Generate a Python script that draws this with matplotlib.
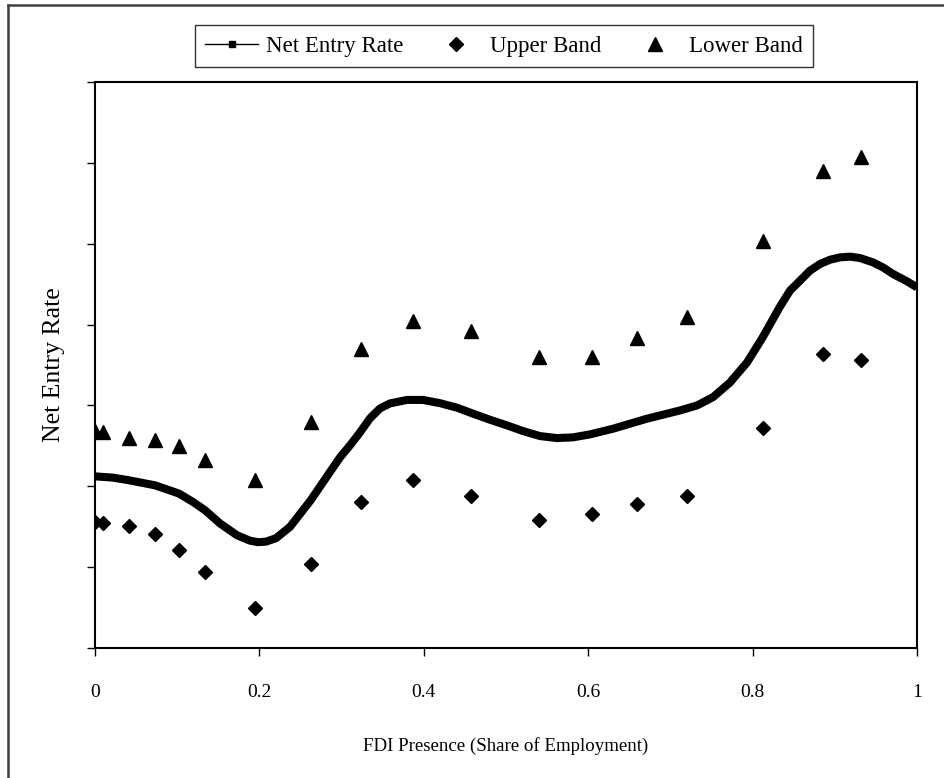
import matplotlib
matplotlib.use("Agg")
import matplotlib.pyplot as plt
from matplotlib.lines import Line2D
from matplotlib.legend_handler import HandlerLine2D

# Net Entry Rate curve (y in tick units, axis 0..7)
line_x = [0.0, 0.0219, 0.0414, 0.0730, 0.1022, 0.1192, 0.1338, 0.1521, 0.1727, 0.1886,
          0.1983, 0.2080, 0.2202, 0.2372, 0.2624, 0.2859, 0.2981, 0.3102, 0.3224, 0.3345,
          0.3467, 0.3589, 0.3796, 0.3990, 0.4197, 0.4404, 0.4599, 0.4805, 0.5012, 0.5207,
          0.5414, 0.5620, 0.5815, 0.6022, 0.6302, 0.6715, 0.7117, 0.7324, 0.7518, 0.7725,
          0.7932, 0.8114, 0.8224, 0.8333, 0.8455, 0.8577, 0.8698, 0.8820, 0.8942, 0.9063,
          0.9185, 0.9307, 0.9465, 0.9586, 0.9708, 0.9878, 1.0]
line_y = [2.123, 2.107, 2.074, 2.012, 1.910, 1.806, 1.704, 1.540, 1.395, 1.327,
          1.309, 1.315, 1.358, 1.498, 1.827, 2.177, 2.358, 2.506, 2.667, 2.840,
          2.963, 3.025, 3.068, 3.068, 3.028, 2.972, 2.898, 2.823, 2.753, 2.683,
          2.621, 2.596, 2.605, 2.642, 2.712, 2.836, 2.938, 3.000, 3.102, 3.284,
          3.531, 3.827, 4.025, 4.222, 4.420, 4.543, 4.667, 4.749, 4.802, 4.831,
          4.840, 4.823, 4.769, 4.707, 4.626, 4.535, 4.460]

band_x = [0.0, 0.0094, 0.041, 0.0726, 0.1018, 0.1335, 0.1943, 0.2624, 0.3232, 0.3865,
          0.4571, 0.5398, 0.6052, 0.659, 0.7198, 0.8123, 0.8853, 0.9315]
upper_y = [1.559, 1.552, 1.506, 1.407, 1.210, 0.938, 0.494, 1.037, 1.806, 2.074,
           1.877, 1.580, 1.660, 1.786, 1.877, 2.725, 3.630, 3.556]
lower_y = [2.685, 2.673, 2.596, 2.577, 2.494, 2.321, 2.074, 2.790, 3.704, 4.049,
           3.926, 3.605, 3.605, 3.831, 4.099, 5.037, 5.901, 6.074]

x_ticks = [0, 0.2, 0.4, 0.6, 0.8, 1.0]
x_ticklabels = ["0", "0.2", "0.4", "0.6", "0.8", "1"]
y_ticks = [0, 1, 2, 3, 4, 5, 6, 7]
legend_labels = ["Net Entry Rate", "Upper Band", "Lower Band"]

plt.rcParams['font.family'] = ['Liberation Serif', 'DejaVu Serif']

fig = plt.figure(figsize=(9.45, 7.78), dpi=100)
ax = fig.add_axes([95/945, 1-648/778, (917-95)/945, (648-82)/778])

ax.plot(line_x, line_y, color='black', lw=5.8, solid_capstyle='butt',
        solid_joinstyle='round', zorder=3)
ax.plot(band_x, upper_y, linestyle='none', marker='D', ms=7, color='black', zorder=4)
ax.plot(band_x, lower_y, linestyle='none', marker='^', ms=10, color='black', zorder=4)

ax.set_xlim(0, 1)
ax.set_ylim(0, 7)
ax.set_xticks(x_ticks)
ax.set_xticklabels(x_ticklabels)
ax.set_yticks(y_ticks)
ax.set_yticklabels([])
ax.tick_params(direction='out', length=6, width=1, labelsize=14, pad=20)
for s in ax.spines.values():
    s.set_linewidth(1.5)
ax.set_xlabel("FDI Presence (Share of Employment)", fontsize=13.6, labelpad=26)
ax.set_ylabel("Net Entry Rate", fontsize=18.5)
ax.yaxis.set_label_coords(-0.036, 0.5)


class LineHandler(HandlerLine2D):
    def get_xdata(self, legend, xdescent, ydescent, width, height, fontsize):
        xd = [-xdescent, -xdescent + width]
        return xd, [-xdescent + 0.5 * width]


class MarkerHandler(HandlerLine2D):
    def __init__(self, offset, **kw):
        super().__init__(**kw)
        self._offset = offset

    def get_xdata(self, legend, xdescent, ydescent, width, height, fontsize):
        xd = [-xdescent, -xdescent + width]
        return xd, [-xdescent + width - self._offset * fontsize]


h_line = Line2D([], [], color='black', lw=1, marker='s', ms=5)
h_up = Line2D([], [], color='black', linestyle='none', marker='D', ms=7)
h_lo = Line2D([], [], color='black', linestyle='none', marker='^', ms=10)
leg = fig.legend([h_line, h_up, h_lo], legend_labels,
                 loc='upper center', bbox_to_anchor=(504/945, 1-14/778), ncol=3,
                 fontsize=16.5, frameon=True, fancybox=False, edgecolor='black',
                 handlelength=2.3, handletextpad=0.35, columnspacing=1.15,
                 borderpad=0.45, numpoints=1,
                 handler_map={h_line: LineHandler(),
                              h_up: MarkerHandler(1.05),
                              h_lo: MarkerHandler(0.35)})
leg.get_frame().set_linewidth(1.0)

# outer frame lines (left and top)
fig.add_artist(Line2D([8/945, 1], [1-5/778, 1-5/778], transform=fig.transFigure,
                      color='#404040', lw=1.8))
fig.add_artist(Line2D([8/945, 8/945], [0, 1-5/778], transform=fig.transFigure,
                      color='#404040', lw=1.8))

fig.savefig("out.png", dpi=100)
